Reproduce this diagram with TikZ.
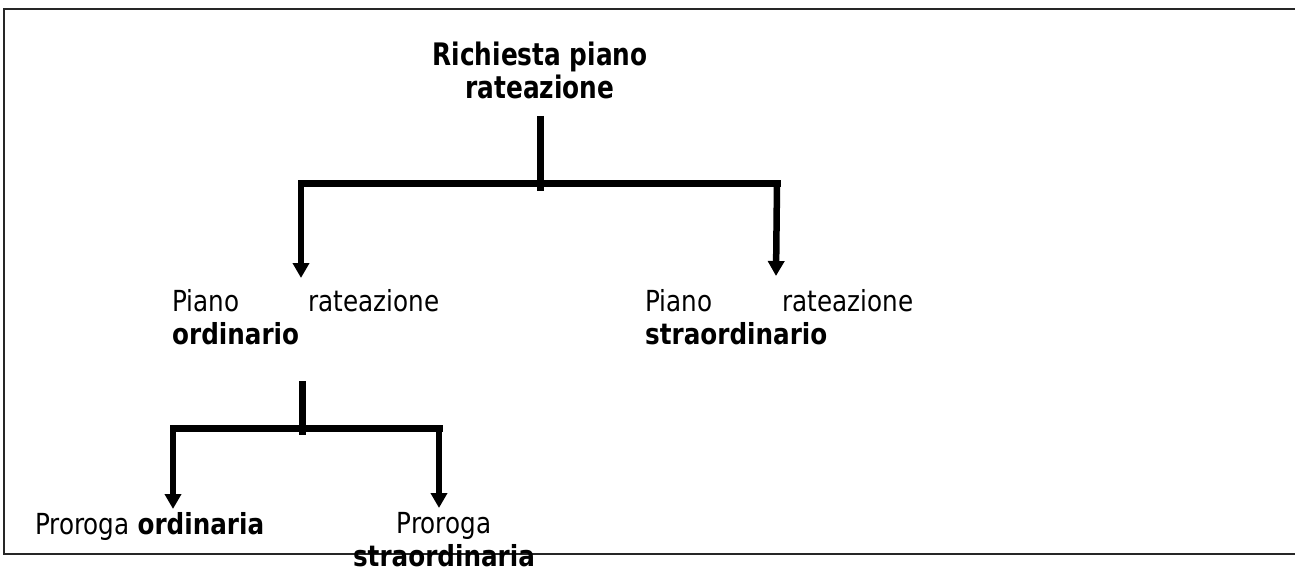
\documentclass[tikz,border=0pt]{standalone}
\usepackage{fontspec}
\setmainfont{DejaVu Sans}[FakeStretch=0.85]
\newfontfamily\titlefont{DejaVu Sans}[FakeStretch=0.80]
\usetikzlibrary{arrows.meta}
\begin{document}
\begin{tikzpicture}[x=1pt,y=-1pt,
  bar/.style={line width=7pt,line cap=rect},
  down/.style={line width=6.5pt,-{Triangle[width=16pt,length=15pt]}},
  txt/.style={inner sep=0pt,font=\fontsize{29}{33}\selectfont},
  frame/.style={line width=1.6pt,black!85}]
\useasboundingbox (0,0) rectangle (1295,572);
% frame
\draw[frame] (1295,9) -- (4,9) -- (4,554) -- (1295,554);
% texts
\node[txt,anchor=north,align=center,font=\titlefont\bfseries\fontsize{31}{33}\selectfont] (root) at (540,42) {Richiesta piano\\rateazione};
\node[txt,anchor=north west,align=left] (ord) at (172,289) {\makebox[267pt][l]{Piano\hfill rateazione}\\\textbf{ordinario}};
\node[txt,anchor=north west,align=left] (str) at (645,289) {\makebox[268pt][l]{Piano\hfill rateazione}\\\textbf{straordinario}};
\node[txt,anchor=north west] (pord) at (35,512) {Proroga \textbf{ordinaria}};
\node[txt,anchor=north,align=center] (pstr) at (444,512) {Proroga\\\textbf{straordinaria}};
% junctions
\coordinate (s1) at (540,116);
\coordinate (j1) at (540,191);
\coordinate (bl) at (301,184);
\coordinate (br) at (777,184);
\coordinate (t1) at (301,278);
\coordinate (t2) at (776,276);
\coordinate (s2) at (302,381);
\coordinate (j2) at (302,435);
\coordinate (cl) at (173,428);
\coordinate (cr) at (439,428);
\coordinate (t3) at (173,509);
\coordinate (t4) at (439,508);
% upper tree
\draw[line width=7pt] (s1) -- (j1);
\draw[bar] (bl) -- (br);
\draw[down] (bl) -- (t1);
\draw[down] (br) -- (t2);
% lower tree
\draw[line width=7pt] (s2) -- (j2);
\draw[bar] (cl) -- (cr);
\draw[down] (cl) -- (t3);
\draw[down] (cr) -- (t4);
\end{tikzpicture}
\end{document}
